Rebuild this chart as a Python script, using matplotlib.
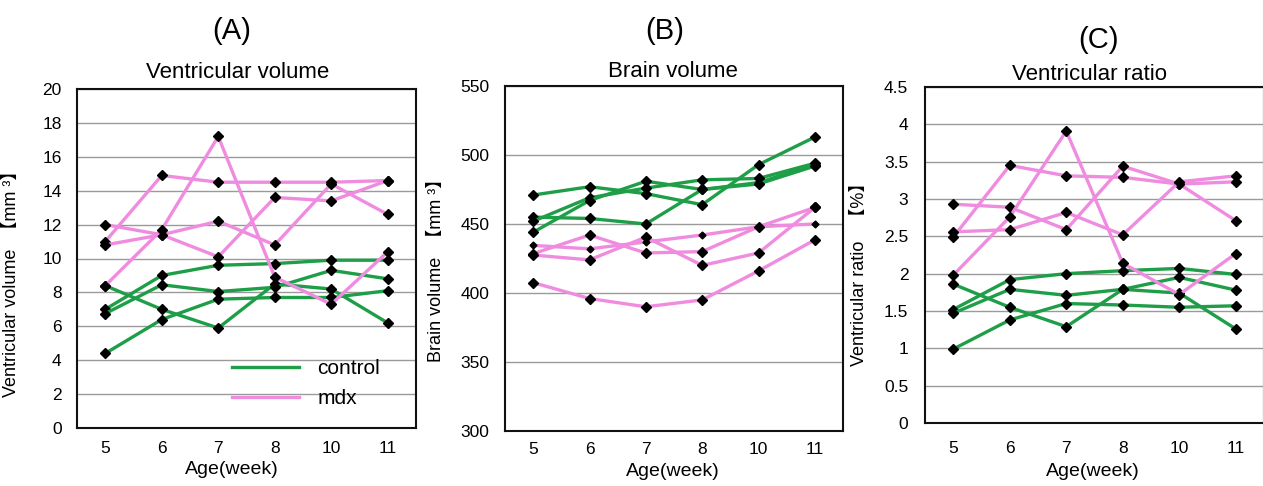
from matplotlib import pyplot as plt
import numpy as np

plt.rcParams['font.family'] = ['Liberation Sans', 'Noto Sans CJK JP', 'DejaVu Sans']

weeks = ['5', '6', '7', '8', '10', '11']

# (A) ventricular volume, mm3
ctrl_vent = [[8.4, 7.0, 5.9, 8.5, 8.2, 6.2],
             [7.0, 9.0, 9.6, 9.7, 9.9, 9.9],
             [6.75, 8.45, 8.05, 8.3, 9.3, 8.8],
             [4.4, 6.4, 7.6, 7.7, 7.7, 8.1]]
mdx_vent = [[12.0, 11.4, 10.1, 13.6, 13.4, 14.6],
            [11.0, 14.9, 14.5, 14.5, 14.5, 14.6],
            [10.8, 11.4, 12.2, 10.8, 14.4, 12.6],
            [8.4, 11.7, 17.2, 8.9, 7.3, 10.4]]

# (B) brain volume, mm3
ctrl_brain = [[471, 477, 472, 464, 493, 513],
              [455, 454, 450, 475, 480, 493],
              [452, 469, 476, 482, 483, 494],
              [444, 467, 481, 475, 479, 492]]
mdx_brain = [[434.5, 432, 437, 442, 448, 450],
             [428.5, 442, 429, 430, 448, 462],
             [427.5, 424, 440.5, 420, 429, 462],
             [407.5, 396, 390, 395, 416, 438.5]]

# (C) ventricular ratio, %
ctrl_ratio = [[1.86, 1.55, 1.29, 1.79, 1.74, 1.26],
              [1.52, 1.92, 2.0, 2.04, 2.07, 1.99],
              [1.47, 1.79, 1.71, 1.79, 1.95, 1.78],
              [0.99, 1.38, 1.6, 1.58, 1.55, 1.57]]
mdx_ratio = [[2.93, 2.89, 2.59, 3.44, 3.2, 2.71],
             [2.49, 3.45, 3.31, 3.29, 3.2, 3.23],
             [2.56, 2.59, 2.82, 2.52, 3.23, 3.31],
             [1.98, 2.76, 3.91, 2.14, 1.72, 2.27]]

green = '#1f9e48'
pink = '#f08ce0'
W, H = 1263, 486

fig = plt.figure(figsize=(W / 100, H / 100), dpi=100)


def make_ax(left, right, top, bottom):
    # pixel box -> figure fraction
    return fig.add_axes([left / W, 1 - bottom / H, (right - left) / W, (bottom - top) / H])


def draw(ax, ctrl, mdx, small=None):
    x = np.arange(len(weeks))
    for row in ctrl:
        ax.plot(x, row, color=green, lw=2.4, marker='D', ms=5.5, mfc='k', mec='k', zorder=3)
    for i, row in enumerate(mdx):
        ms = 3.5 if i == small else 5.5
        ax.plot(x, row, color=pink, lw=2.4, marker='D', ms=ms, mfc='k', mec='k', zorder=3)
    ax.set_xlim(-0.5, len(weeks) - 0.5)
    ax.set_xticks(x)
    ax.set_xticklabels(weeks)
    ax.yaxis.grid(True, color='#9a9a9a', lw=1)
    ax.set_axisbelow(True)
    for s in ax.spines.values():
        s.set_linewidth(1.5)
        s.set_color('#111111')
    ax.tick_params(length=0, labelsize=12.5)


########## (A) ##########
axA = make_ax(77, 416, 89, 428)
draw(axA, ctrl_vent, mdx_vent)
axA.set_ylim(0, 20)
axA.set_yticks(np.arange(0, 21, 2))
axA.tick_params(axis='y', pad=11)
axA.tick_params(axis='x', pad=9)
axA.set_ylabel('Ventricular volume  【mm ³】', fontsize=13)
axA.yaxis.set_label_coords(-0.168, 0.44)
axA.set_xlabel('Age(week)', fontsize=14)
axA.xaxis.set_label_coords(0.456, -0.097)
axA.plot([], [], color=green, lw=2.4, label='control')
axA.plot([], [], color=pink, lw=2.4, label='mdx')
axA.legend(loc='center', bbox_to_anchor=(0.676, 0.131), frameon=False, fontsize=15,
           handlelength=3.2, handletextpad=0.9, labelspacing=0.5)

########## (B) ##########
axB = make_ax(505, 843, 86, 431)
draw(axB, ctrl_brain, mdx_brain, small=0)
axB.set_ylim(300, 550)
axB.set_yticks(np.arange(300, 551, 50))
axB.tick_params(axis='y', pad=11)
axB.tick_params(axis='x', pad=8)
axB.set_ylabel('Brain volume  【mm ³】', fontsize=13)
axB.yaxis.set_label_coords(-0.178, 0.478)
axB.set_xlabel('Age(week)', fontsize=14)
axB.xaxis.set_label_coords(0.497, -0.093)

########## (C) ##########
axC = make_ax(925, 1264, 87, 423)
draw(axC, ctrl_ratio, mdx_ratio)
axC.set_ylim(0, 4.5)
ratio_ticks = np.arange(0, 4.51, 0.5)
axC.set_yticks(ratio_ticks)
axC.set_yticklabels(['%g' % t for t in ratio_ticks])
axC.tick_params(axis='y', pad=12)
axC.tick_params(axis='x', pad=13)
axC.set_ylabel('Ventricular ratio   【%】', fontsize=13)
axC.yaxis.set_label_coords(-0.168, 0.455)
axC.set_xlabel('Age(week)', fontsize=14)
axC.xaxis.set_label_coords(0.496, -0.119)

# panel letters and titles
fig.text(232 / W, 1 - 31 / H, '(A)', fontsize=21, ha='center', va='center')
fig.text(665 / W, 1 - 31 / H, '(B)', fontsize=21, ha='center', va='center')
fig.text(1098 / W, 1 - 40 / H, '(C)', fontsize=21, ha='center', va='center')
fig.text(238 / W, 1 - 73 / H, 'Ventricular volume', fontsize=16, ha='center', va='center')
fig.text(673 / W, 1 - 71 / H, 'Brain volume', fontsize=16, ha='center', va='center')
fig.text(1090 / W, 1 - 75 / H, 'Ventricular ratio', fontsize=16, ha='center', va='center')

plt.savefig('out.png', dpi=100)
